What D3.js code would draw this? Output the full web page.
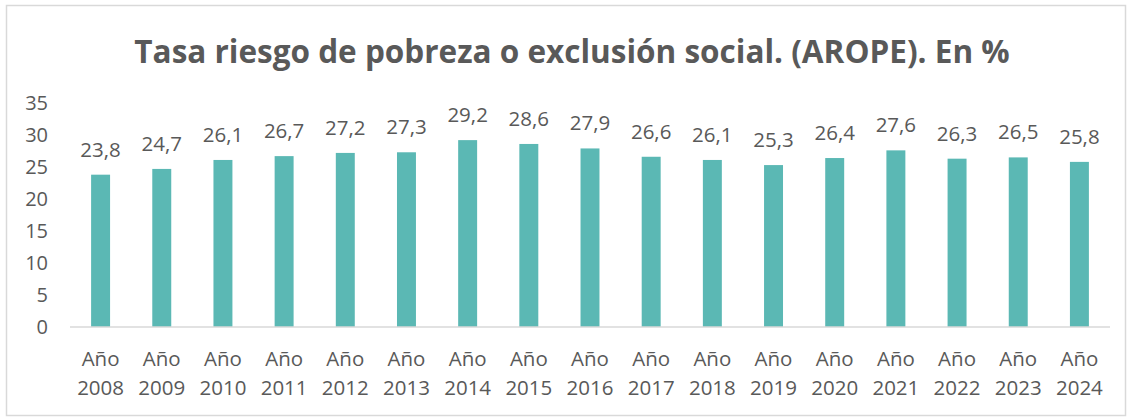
<!DOCTYPE html>
<html lang="es">
<head>
    <meta charset="UTF-8">
    <title>Tasa riesgo de pobreza o exclusión social</title>
    <script src="https://d3js.org/d3.v7.min.js"></script>
    <style>
        body { margin: 0; background: #fff; }
        svg text { font-family: "Open Sans", sans-serif; fill: #595959; }
    </style>
</head>
<body>
    <svg id="chart"></svg>

    <script>
        const years = ["2008", "2009", "2010", "2011", "2012", "2013", "2014", "2015", "2016",
                       "2017", "2018", "2019", "2020", "2021", "2022", "2023", "2024"];
        const arope = [23.8, 24.7, 26.1, 26.7, 27.2, 27.3, 29.2, 28.6, 27.9,
                       26.6, 26.1, 25.3, 26.4, 27.6, 26.3, 26.5, 25.8];
        const yTicks = [0, 5, 10, 15, 20, 25, 30, 35];
        const title = "Tasa riesgo de pobreza o exclusión social. (AROPE). En %";

        const dataset = years.map((y, i) => ({ year: y, value: arope[i] }));

        const width = 1132, height = 419, margin = {top: 103, right: 22, bottom: 92, left: 70};
        const svg = d3.select("#chart")
                      .attr("width", width)
                      .attr("height", height);

        // chart border
        svg.append("rect")
           .attr("x", 6.5).attr("y", 5.5)
           .attr("width", 1119).attr("height", 410)
           .attr("fill", "#fff")
           .attr("stroke", "#d9d9d9")
           .attr("stroke-width", 1.5);

        svg.append("text")
           .attr("x", 572)
           .attr("y", 63)
           .attr("text-anchor", "middle")
           .style("font-size", "31.5px")
           .style("font-weight", "bold")
           .text(title);

        const xScale = d3.scaleBand()
                         .domain(years)
                         .range([margin.left, width - margin.right])
                         .paddingInner(0.69)
                         .paddingOuter(0.345);

        const yScale = d3.scaleLinear()
                         .domain([0, 35])
                         .range([height - margin.bottom, margin.top]);

        // y axis labels only
        const yAxis = svg.append("g")
           .attr("transform", `translate(${margin.left},0)`)
           .call(d3.axisLeft(yScale).tickValues(yTicks).tickSize(0).tickPadding(22));
        yAxis.select(".domain").remove();
        yAxis.selectAll("text")
             .style("font-size", "20px")
             .attr("fill", "#595959");

        svg.selectAll(".bar")
           .data(dataset)
           .enter()
           .append("rect")
           .attr("class", "bar")
           .attr("x", d => xScale(d.year))
           .attr("y", d => yScale(d.value))
           .attr("width", xScale.bandwidth())
           .attr("height", d => yScale(0) - yScale(d.value))
           .attr("fill", "#5bb8b4");

        // x axis baseline
        svg.append("line")
           .attr("x1", margin.left).attr("x2", width - margin.right)
           .attr("y1", yScale(0)).attr("y2", yScale(0))
           .attr("stroke", "#d9d9d9")
           .attr("stroke-width", 1.5);

        const xLabels = svg.selectAll(".xlabel")
           .data(dataset)
           .enter()
           .append("text")
           .attr("class", "xlabel")
           .attr("text-anchor", "middle")
           .style("font-size", "20.5px");
        xLabels.append("tspan")
           .attr("x", d => xScale(d.year) + xScale.bandwidth() / 2)
           .attr("y", 366)
           .text("Año");
        xLabels.append("tspan")
           .attr("x", d => xScale(d.year) + xScale.bandwidth() / 2)
           .attr("y", 395)
           .text(d => d.year);

        svg.selectAll(".label")
           .data(dataset)
           .enter()
           .append("text")
           .attr("class", "label")
           .attr("x", d => xScale(d.year) + xScale.bandwidth() / 2)
           .attr("y", d => yScale(d.value) - 18)
           .attr("text-anchor", "middle")
           .style("font-size", "20.5px")
           .text(d => d.value.toFixed(1).replace(".", ","));
    </script>
</body>
</html>
